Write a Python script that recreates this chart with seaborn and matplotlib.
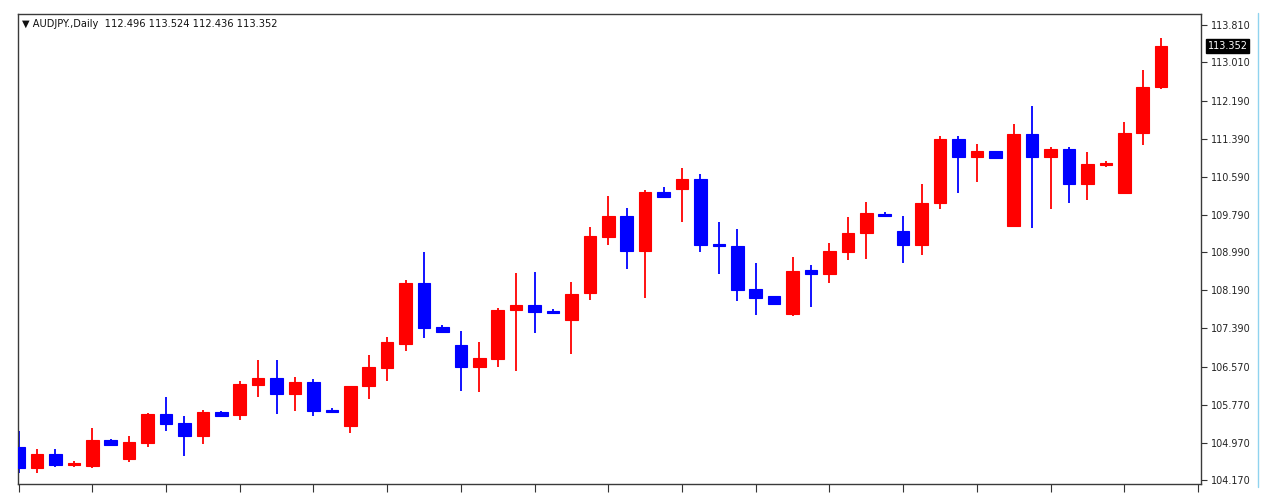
import matplotlib
matplotlib.use("Agg")
import matplotlib.pyplot as plt
from matplotlib.lines import Line2D
import seaborn as sns
import numpy as np
import pandas as pd

# --- DATA (AUDJPY daily) ---
opens = [104.884, 104.434, 104.730, 104.491, 104.476, 105.025, 104.624, 104.968, 105.575, 105.385,
         105.110, 105.611, 105.554, 106.182, 106.330, 105.992, 106.245, 105.666, 105.328, 106.167,
         106.554, 107.055, 108.338, 107.415, 107.028, 106.575, 106.738, 107.768, 107.880, 107.753,
         107.569, 108.127, 109.324, 109.768, 109.028, 110.262, 110.332, 110.544, 109.163, 109.133,
         108.212, 108.070, 107.683, 108.613, 108.535, 109.000, 109.396, 109.810, 109.438, 109.148,
         110.030, 111.383, 111.002, 111.136, 109.556, 111.495, 111.015, 111.171, 110.438, 110.846,
         110.241, 111.510, 112.496]
highs = [105.222, 104.835, 104.835, 104.588, 105.279, 105.053, 105.110, 105.603, 105.935, 105.539,
         105.660, 105.639, 106.273, 106.717, 106.717, 106.351, 106.315, 105.696, 106.173, 106.829,
         107.197, 108.408, 109.000, 107.451, 107.336, 107.097, 107.810, 108.556, 108.584, 107.795,
         108.360, 109.529, 110.184, 109.937, 110.311, 110.381, 110.770, 110.643, 109.628, 109.480,
         108.761, 108.070, 108.901, 108.725, 109.190, 109.747, 110.064, 109.846, 109.768, 110.432,
         111.453, 111.453, 111.284, 111.136, 111.700, 112.087, 111.214, 111.214, 111.114, 110.930,
         111.749, 112.842, 113.524]
lows = [104.328, 104.328, 104.455, 104.455, 104.434, 104.905, 104.560, 104.878, 105.216, 104.694,
        104.941, 105.518, 105.448, 105.941, 105.575, 105.645, 105.533, 105.603, 105.180, 105.892,
        106.279, 106.913, 107.176, 107.281, 106.068, 106.040, 106.575, 106.491, 107.281, 107.683,
        106.844, 107.985, 109.148, 108.641, 108.034, 110.169, 109.634, 109.007, 108.535, 107.958,
        107.668, 107.907, 107.647, 107.831, 108.338, 108.831, 108.859, 109.746, 108.774, 108.943,
        109.903, 110.241, 110.487, 110.966, 109.556, 109.514, 109.903, 110.043, 110.100, 110.804,
        110.220, 111.262, 112.436]
closes = [104.434, 104.730, 104.503, 104.546, 105.025, 104.920, 104.983, 105.575, 105.364, 105.110,
          105.624, 105.533, 106.203, 106.330, 105.992, 106.245, 105.645, 105.617, 106.173, 106.563,
          107.097, 108.345, 107.400, 107.303, 106.575, 106.753, 107.780, 107.880, 107.738, 107.711,
          108.112, 109.332, 109.768, 109.028, 110.262, 110.169, 110.544, 109.148, 109.121, 108.197,
          108.034, 107.907, 108.605, 108.541, 109.021, 109.408, 109.818, 109.755, 109.148, 110.043,
          111.383, 111.002, 111.136, 110.994, 111.495, 111.015, 111.171, 110.438, 110.867, 110.888,
          111.522, 112.495, 113.352]
price_ticks = [104.17, 104.97, 105.77, 106.57, 107.39, 108.19, 108.99,
               109.79, 110.59, 111.39, 112.19, 113.01, 113.81]
symbol = "AUDJPY.,Daily"

df = pd.DataFrame({"open": opens, "high": highs, "low": lows, "close": closes})
df["bar"] = np.arange(len(df))
df["color"] = np.where(df["close"] >= df["open"], "#ff0000", "#0000ff")
df["bottom"] = df[["open", "close"]].min(axis=1)
df["height"] = (df["close"] - df["open"]).abs()

# --- STYLE ---
sns.set_theme(style="white")
plt.rcParams["font.family"] = ["DejaVu Sans"]

fig = plt.figure(figsize=(12.74, 5.0), dpi=100)
ax = fig.add_axes([18 / 1274, 16 / 500, 1183 / 1274, 470 / 500])

# wicks then bodies
ax.vlines(df["bar"], df["low"], df["high"], colors=df["color"], lw=1.3, zorder=2)
ax.bar(df["bar"], df["height"], bottom=df["bottom"], width=0.68,
       color=df["color"], edgecolor=df["color"], linewidth=0.8, zorder=3)

ax.set_xlim(-0.03, 64.16)
ax.set_ylim(104.095, 114.032)

ax.yaxis.tick_right()
ax.set_yticks(price_ticks)
ax.set_yticklabels([f"{t:.3f}" for t in price_ticks])
ax.set_xticks(np.arange(0, 65, 4))
ax.tick_params(axis="y", which="both", right=True, left=False, length=4, width=0.8,
               color="#333333", labelsize=6.9, labelcolor="#222222", pad=3, direction="out")
ax.tick_params(axis="x", bottom=True, length=6, width=0.8, color="#333333",
               labelbottom=False, direction="out")
ax.grid(False)
for s in ax.spines.values():
    s.set_color("#3a3a3a")
    s.set_linewidth(1.0)

# header text
ax.text(0.0034, 0.978, "\u25bc " + symbol + "  " +
        f"{opens[-1]:.3f} {highs[-1]:.3f} {lows[-1]:.3f} {closes[-1]:.3f}",
        transform=ax.transAxes, fontsize=7.1, color="#111111", va="center", ha="left")

# current price marker
ax.text(1.0055, closes[-1], f"{closes[-1]:.3f}", transform=ax.get_yaxis_transform(),
        fontsize=7.0, color="white", va="center", ha="left", clip_on=False,
        bbox=dict(boxstyle="square,pad=0.18", fc="black", ec="black"))

# light blue border line at the right
fig.add_artist(Line2D([1258 / 1274] * 2, [1 - 487 / 500, 1 - 13 / 500],
                      color="#8fd3ef", lw=1.0, transform=fig.transFigure))

fig.savefig("out.png", dpi=100)
plt.close(fig)
